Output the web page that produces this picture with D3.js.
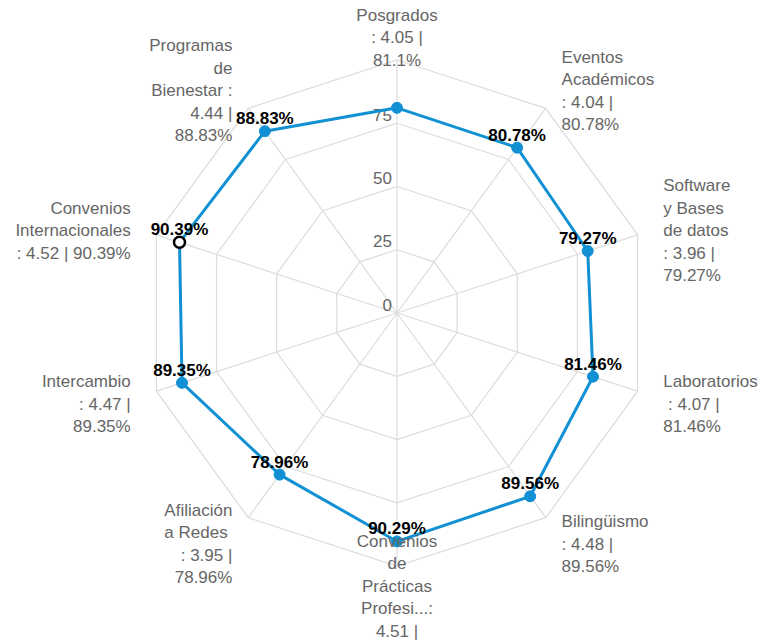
<!DOCTYPE html>
<html><head><meta charset="utf-8">
<script src="https://cdn.jsdelivr.net/npm/d3@7"></script>
<style>
html,body{margin:0;padding:0;background:#fff;}
svg{display:block;font-family:"Liberation Sans",Arial,Helvetica,sans-serif;}
</style></head>
<body>
<svg id="chart" width="763" height="643"></svg>
<script>
const categories = ["Posgrados","Eventos Académicos","Software y Bases de datos","Laboratorios","Bilingüismo","Convenios de Prácticas Profesionales","Afiliación a Redes","Intercambio","Convenios Internacionales","Programas de Bienestar"];
const scores = [4.05,4.04,3.96,4.07,4.48,4.51,3.95,4.47,4.52,4.44];
const percents = [81.1,80.78,79.27,81.46,89.56,90.29,78.96,89.35,90.39,88.83];
const pctLabels = ["81.1%","80.78%","79.27%","81.46%","89.56%","90.29%","78.96%","89.35%","90.39%","88.83%"];
const showDataLabel = [false,true,true,true,true,true,true,true,true,true];
const highlighted = [false,false,false,false,false,false,false,false,true,false];
// axis name text, wrapped as in the reference (last line of the bottom label falls off the canvas)
const axisLabelLines = [
  ["Posgrados", ": 4.05 |", "81.1%"],
  ["Eventos", "Académicos", ": 4.04 |", "80.78%"],
  ["Software", "y Bases", "de datos", ": 3.96 |", "79.27%"],
  ["Laboratorios", " : 4.07 |", "81.46%"],
  ["Bilingüismo", ": 4.48 |", "89.56%"],
  ["Convenios", "de", "Prácticas", "Profesi...:", "4.51 |"],
  ["Afiliación", "a Redes ", ": 3.95 |", "78.96%"],
  ["Intercambio", ": 4.47 |", "89.35%"],
  ["Convenios", "Internacionales", ": 4.52 | 90.39%"],
  ["Programas", "de", "Bienestar :", "4.44 |", "88.83%"]
];
const axisLabelLineCount = [3,4,5,3,3,6,4,3,3,5];
const gridLevels = [25,50,75,100];
const tickLabels = [0,25,50,75];

const svg = d3.select("#chart");
const cx = 397, cy = 313, R = 253;
const n = categories.length;
const r = d3.scaleLinear().domain([0,100]).range([0,R]);
const angle = d3.scaleLinear().domain([0,n]).range([0,2*Math.PI]);
const px = (i,rad) => cx + rad*Math.sin(angle(i));
const py = (i,rad) => cy - rad*Math.cos(angle(i));

const g = svg.append("g");
const idx = d3.range(n);

// grid rings
g.selectAll("polygon.ring").data(gridLevels).join("polygon")
  .attr("points", lv => idx.map(i => [px(i,r(lv)), py(i,r(lv))].join(",")).join(" "))
  .attr("fill","none").attr("stroke","#dcdcdc").attr("stroke-width",1.2);
// spokes
g.selectAll("line.spoke").data(idx).join("line")
  .attr("x1",cx).attr("y1",cy)
  .attr("x2",i=>px(i,r(100))).attr("y2",i=>py(i,r(100)))
  .attr("stroke","#dcdcdc").attr("stroke-width",1.2);

// tick labels
g.selectAll("text.tick").data(tickLabels).join("text")
  .attr("x", cx-5).attr("y", d => cy - r(d) - 2.5)
  .attr("text-anchor","end").attr("fill","#666").attr("font-size",17)
  .text(d=>d);

// series line
const line = d3.lineRadial().angle((d,i)=>angle(i)).radius(d=>r(d)).curve(d3.curveLinearClosed);
g.append("path").attr("transform",`translate(${cx},${cy})`)
  .attr("d", line(percents)).attr("fill","none")
  .attr("stroke","#1190d3").attr("stroke-width",3).attr("stroke-linejoin","round");

// points
g.selectAll("circle.pt").data(idx).join("circle")
  .attr("cx",i=>px(i,r(percents[i]))).attr("cy",i=>py(i,r(percents[i])))
  .attr("r",5.5)
  .attr("fill",i=>highlighted[i]?"#fff":"#1190d3")
  .attr("stroke",i=>highlighted[i]?"#000":"#1190d3")
  .attr("stroke-width",i=>highlighted[i]?2.5:1);

// axis labels
idx.forEach(i=>{
  const a = angle(i), s = Math.sin(a), c = Math.cos(a);
  const anchor = Math.abs(s)<0.01 ? "middle" : (s>0 ? "start" : "end");
  const lx = cx + 280*s;
  const centerY = cy - 280*c + 4;
  const lines = axisLabelLines[i];
  const total = axisLabelLineCount[i];
  const lh = 22.5;
  const t = g.append("text").attr("text-anchor",anchor).attr("fill","#666")
    .attr("font-size",17).style("white-space","pre");
  lines.forEach((ln,k)=>{
    t.append("tspan").attr("x",lx).attr("y", centerY + (k-(total-1)/2)*lh + 6).text(ln);
  });
});

// data labels
g.selectAll("text.dl").data(idx.filter(i=>showDataLabel[i])).join("text")
  .attr("x",i=>px(i,r(percents[i])))
  .attr("y",i=>py(i,r(percents[i])) - 7)
  .attr("text-anchor","middle").attr("font-weight","bold").attr("font-size",17)
  .attr("fill","#000")
  .text(i=>pctLabels[i]);
</script>
</body></html>
